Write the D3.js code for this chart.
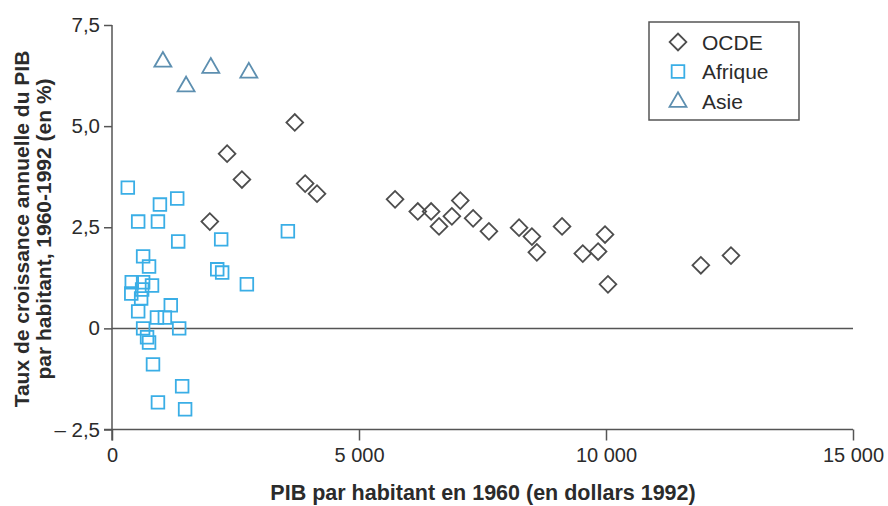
<!DOCTYPE html>
<html>
<head>
<meta charset="utf-8">
<script src="https://cdn.jsdelivr.net/npm/d3@7"></script>
<style>
    html, body { margin: 0; padding: 0; background: #fff; }
    svg text { font-family: "Liberation Sans", Arial, Helvetica, sans-serif; fill: #2b2b2b; }
    .axis path, .axis line { stroke: #555; stroke-width: 1.5; }
</style>
</head>
<body>
<svg id="chart" width="888" height="506"></svg>
<script>
(function (d3) {
    'use strict';

    // OCDE (PIB 1960, croissance 1960-1992)
    var ocdePib = [3700, 2330, 2630, 3910, 4150, 1980, 5730, 6190, 6460, 6620, 6880, 7050,
                   7310, 7630, 8240, 8500, 8600, 9110, 9530, 9840, 9980, 10040, 11920, 12530];
    var ocdeCroissance = [5.09, 4.32, 3.68, 3.58, 3.33, 2.64, 3.19, 2.89, 2.89, 2.52, 2.77, 3.16,
                          2.72, 2.40, 2.49, 2.27, 1.88, 2.52, 1.85, 1.90, 2.32, 1.09, 1.56, 1.80];

    // Afrique
    var afriquePib = [320, 970, 1320, 530, 930, 1340, 2210, 3560, 630, 750, 2130, 2230, 2730,
                      400, 630, 810, 390, 610, 590, 530, 1190, 910, 1070, 1360, 630, 710, 750,
                      830, 1420, 930, 1480];
    var afriqueCroissance = [3.48, 3.06, 3.21, 2.64, 2.64, 2.15, 2.20, 2.40, 1.78, 1.53, 1.46, 1.38, 1.09,
                             1.14, 1.14, 1.06, 0.86, 0.96, 0.74, 0.42, 0.57, 0.27, 0.27, 0.00, 0.00, -0.22, -0.35,
                             -0.89, -1.43, -1.83, -2.00];

    // Asie
    var asiePib = [1030, 1500, 2000, 2770];
    var asieCroissance = [6.59, 5.98, 6.44, 6.32];

    var seriesNames = ['OCDE', 'Afrique', 'Asie'];
    var xTicks = [0, 5000, 10000, 15000];
    var yTicks = [-2.5, 0, 2.5, 5, 7.5];

    var svg = d3.select('#chart');

    var x = d3.scaleLinear().domain([0, 15000]).range([112, 853]);
    var y = d3.scaleLinear().domain([-2.5, 7.5]).range([429.5, 25]);

    var fr = d3.formatLocale({ decimal: ',', thousands: ' ', grouping: [3], currency: ['', ' €'] });
    var fmtX = fr.format(',d'),
        fmtY = function (v) {
            if (v === 0) return '0';
            var s = fr.format('.1f')(Math.abs(v));
            return v < 0 ? '\u2013 ' + s : s;
        };

    /**
     * shapes for each series
     */
    var STYLES = {
        OCDE:    { color: '#4d4d4d', path: d3.symbol().type(d3.symbolSquare).size(140)(), rotate: 45 },
        Afrique: { color: '#3aaee6', path: d3.symbol().type(d3.symbolSquare).size(160)(), rotate: 0 },
        Asie:    { color: '#5d8fb0', path: d3.symbol().type(d3.symbolTriangle).size(125)(), rotate: 0 }
    };

    // x axis
    var gx = svg.append('g')
        .attr('class', 'axis')
        .attr('transform', 'translate(0,' + y(-2.5) + ')')
        .call(d3.axisBottom(x).tickValues(xTicks).tickFormat(fmtX).tickSize(11).tickSizeOuter(0).tickPadding(7));
    gx.select('.domain').attr('d', 'M104,0H' + x(15000));
    gx.selectAll('text').style('font-size', '20px');

    // y axis
    var gy = svg.append('g')
        .attr('class', 'axis')
        .attr('transform', 'translate(' + x(0) + ',0)')
        .call(d3.axisLeft(y).tickValues(yTicks).tickFormat(fmtY).tickSize(8).tickSizeOuter(0).tickPadding(4));
    gy.select('.domain').attr('d', 'M0,' + y(7.5) + 'V' + (y(-2.5) + 11));
    gy.selectAll('text').style('font-size', '20.5px');

    // zero line
    svg.append('line')
        .attr('x1', x(0)).attr('x2', x(15000))
        .attr('y1', y(0)).attr('y2', y(0))
        .attr('stroke', '#555').attr('stroke-width', 1.5);

    function drawSeries(name, xs, ys) {
        var st = STYLES[name];
        svg.append('g').selectAll('path')
            .data(xs.map(function (v, i) { return [v, ys[i]]; }))
            .join('path')
            .attr('d', st.path)
            .attr('transform', function (d) {
                return 'translate(' + x(d[0]) + ',' + y(d[1]) + ') rotate(' + st.rotate + ')';
            })
            .attr('fill', 'none')
            .attr('stroke', st.color)
            .attr('stroke-width', 1.8);
    }

    drawSeries('Afrique', afriquePib, afriqueCroissance);
    drawSeries('OCDE', ocdePib, ocdeCroissance);
    drawSeries('Asie', asiePib, asieCroissance);

    // axis titles
    svg.append('text')
        .attr('x', 483).attr('y', 500)
        .attr('text-anchor', 'middle')
        .style('font-size', '21.5px').style('font-weight', 'bold')
        .text('PIB par habitant en 1960 (en dollars 1992)');

    var yTitle = svg.append('g').attr('transform', 'translate(0,229) rotate(-90)');
    yTitle.append('text')
        .attr('x', 0).attr('y', 29)
        .attr('text-anchor', 'middle')
        .style('font-size', '21px').style('font-weight', 'bold')
        .text('Taux de croissance annuelle du PIB');
    yTitle.append('text')
        .attr('x', 0).attr('y', 51)
        .attr('text-anchor', 'middle')
        .style('font-size', '21px').style('font-weight', 'bold')
        .text('par habitant, 1960-1992 (en %)');

    // legend
    var legend = svg.append('g');
    legend.append('rect')
        .attr('x', 649).attr('y', 22).attr('width', 150).attr('height', 98)
        .attr('fill', '#fff').attr('stroke', '#555').attr('stroke-width', 1.5);
    seriesNames.forEach(function (name, i) {
        var st = STYLES[name],
            ly = 42 + i * 29.5;
        legend.append('path')
            .attr('d', st.path)
            .attr('transform', 'translate(678,' + (ly + (name === 'Asie' ? 1 : 0)) + ') rotate(' + st.rotate + ')')
            .attr('fill', 'none')
            .attr('stroke', st.color)
            .attr('stroke-width', 1.8);
        legend.append('text')
            .attr('x', 702).attr('y', ly + 7.5)
            .style('font-size', '21px')
            .text(name);
    });

})(this.d3);
</script>
</body>
</html>
